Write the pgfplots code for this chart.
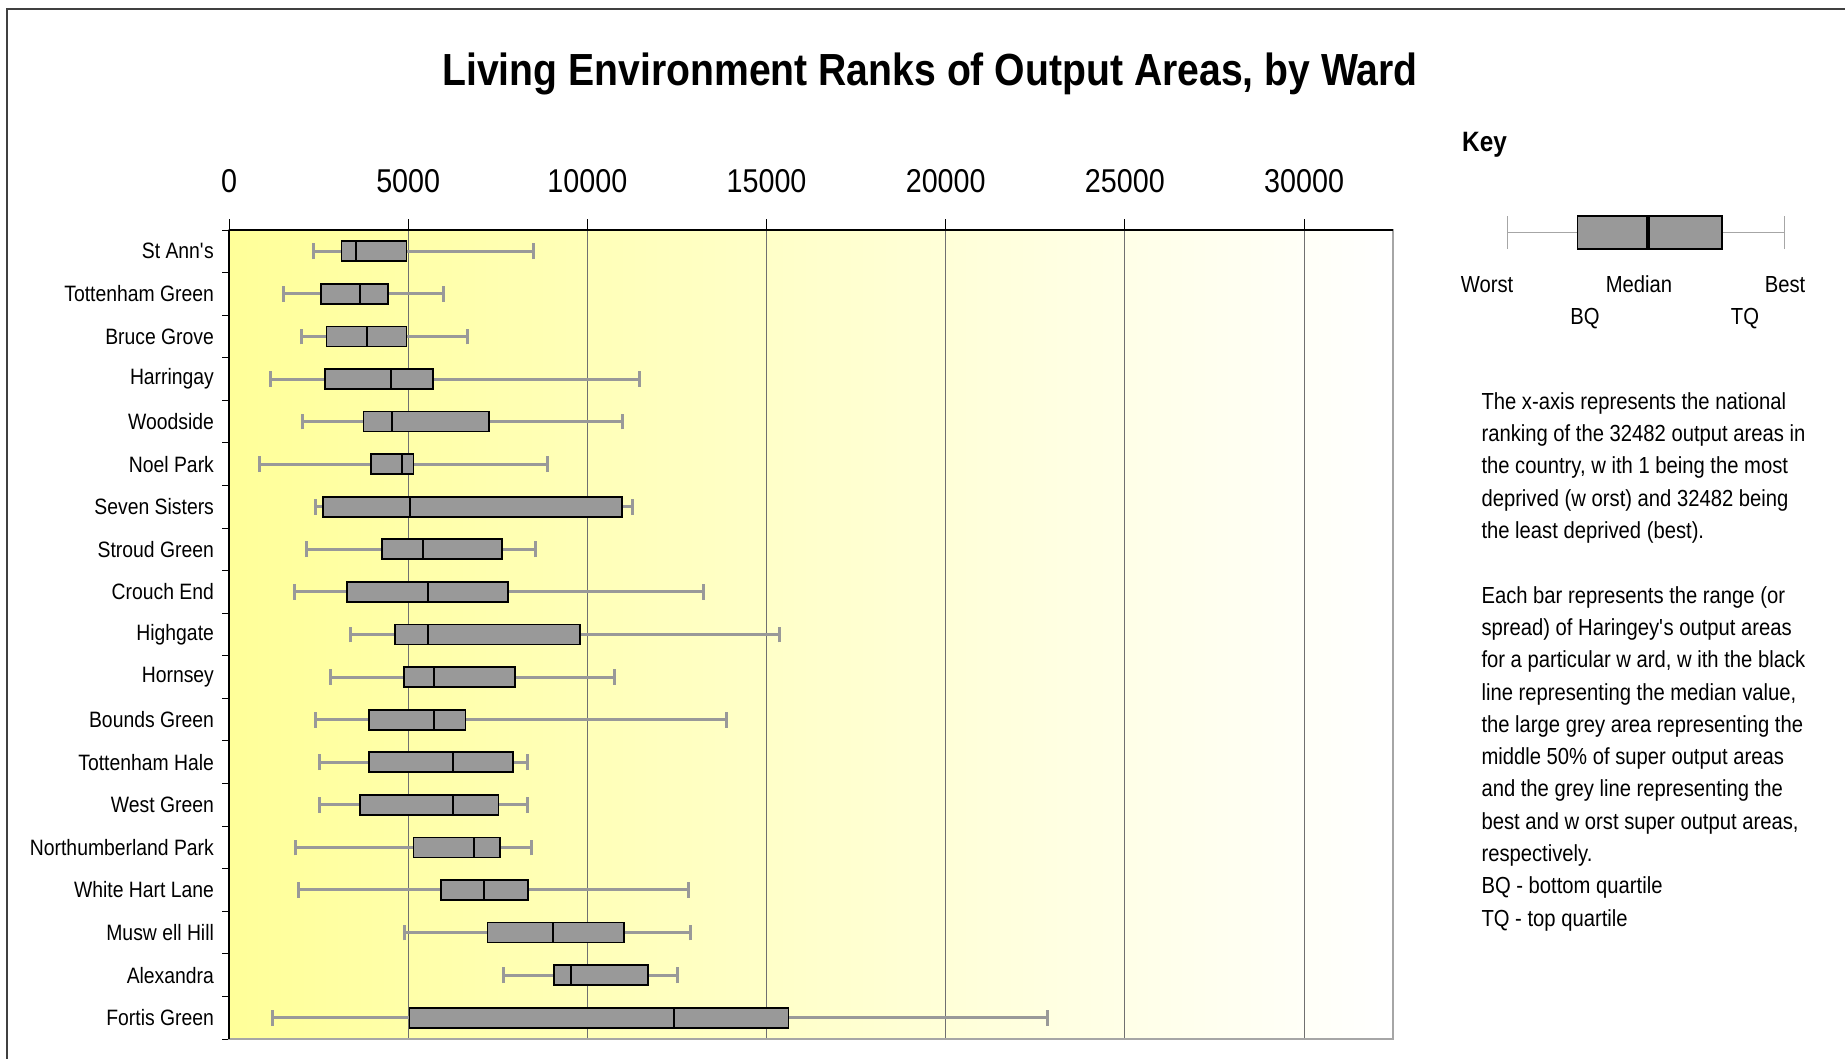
\documentclass[border=0pt]{standalone}
\usepackage{fontspec}
\setmainfont{Liberation Sans}[FakeStretch=0.87]
\usepackage{pgfplots}
\pgfplotsset{compat=1.18}
\usepgfplotslibrary{statistics}
\usepackage{pgfplotstable}
\definecolor{boxgray}{HTML}{999999}
\definecolor{whisk}{HTML}{999999}
\definecolor{bgyel}{HTML}{FFFF99}
\definecolor{gridc}{HTML}{707070}

% rows from bottom (Fortis Green) to top (St Ann's)
\pgfplotstableread{
pos lw lq med uq uw
0 1220 5040 12420 15610 22850
1 7670 9070 9530 11700 12520
2 4890 7210 9030 11020 12880
3 1950 5920 7110 8340 12830
4 1850 5150 6850 7570 8450
5 2520 3650 6240 7520 8340
6 2520 3900 6240 7930 8340
7 2410 3900 5710 6600 13870
8 2820 4890 5710 7980 10770
9 3390 4640 5560 9790 15360
10 1830 3290 5560 7780 13240
11 2150 4260 5400 7620 8550
12 2410 2620 5040 10970 11270
13 860 3970 4840 5150 8900
14 2050 3750 4540 7260 10970
15 1170 2670 4530 5700 11450
16 2010 2720 3850 4950 6650
17 1530 2570 3650 4430 5990
18 2370 3140 3540 4950 8500
}\wards

\begin{document}
\begin{tikzpicture}[x=0.4pt,y=-0.4pt]
\path[use as bounding box] (0,0) rectangle (1845,1059);
\draw[line width=0.8pt, color=black!75] (7,1059) -- (7,9) -- (1845,9);
\node[anchor=base, inner sep=0pt, font=\fontsize{18}{21}\selectfont\bfseries] at (930,86) {Living Environment Ranks of Output Areas, by Ward};

\begin{axis}[
  at={(91.6pt,-415.6pt)}, anchor=south west,
  scale only axis, width=465.6pt, height=323.6pt,
  xmin=0, xmax=32482, ymin=-0.5, ymax=18.5,
  xtick={0,5000,10000,15000,20000,25000,30000},
  xticklabels={0,5000,10000,15000,20000,25000,30000},
  scaled x ticks=false,
  xtick pos=right, xticklabel pos=right,
  ytick={0,...,18},
  yticklabels={Fortis Green, Alexandra, Musw ell Hill, White Hart Lane, Northumberland Park, West Green, Tottenham Hale, Bounds Green, Hornsey, Highgate, Crouch End, Stroud Green, Seven Sisters, Noel Park, Woodside, Harringay, Bruce Grove, Tottenham Green, St Ann\textquotesingle s},
  minor ytick={-0.5,0.5,...,18.5},
  ytick pos=left,
  tick align=outside,
  major tick length=4.4pt, minor tick length=2.7pt,
  major y tick style={draw=none},
  tick style={black, line width=0.4pt},
  xmajorgrids, grid style={gridc, line width=0.45pt},
  axis line style={draw=gray!70, line width=0.6pt},
  axis background/.style={left color=bgyel, right color=white},
  xticklabel style={font=\fontsize{13.2}{15}\selectfont, yshift=7pt},
  yticklabel style={font=\fontsize{8.9}{10}\selectfont, xshift=1.9pt},
  boxplot/box extend=0.47, boxplot/whisker extend=0.37,
  boxplot/every box/.style={draw=black, fill=boxgray, line width=0.7pt},
  boxplot/every whisker/.style={draw=whisk, line width=1.2pt},
  boxplot/every median/.style={draw=black, line width=0.8pt},
  clip=false,
]
\pgfplotsinvokeforeach{0,...,18}{
  \pgfplotstablegetelem{#1}{lw}\of\wards \let\vlw\pgfplotsretval
  \pgfplotstablegetelem{#1}{lq}\of\wards \let\vlq\pgfplotsretval
  \pgfplotstablegetelem{#1}{med}\of\wards \let\vmed\pgfplotsretval
  \pgfplotstablegetelem{#1}{uq}\of\wards \let\vuq\pgfplotsretval
  \pgfplotstablegetelem{#1}{uw}\of\wards \let\vuw\pgfplotsretval
  \edef\doplot{\noexpand\addplot[boxplot prepared={lower whisker=\vlw, lower quartile=\vlq, median=\vmed, upper quartile=\vuq, upper whisker=\vuw, draw position=#1}] coordinates {};}
  \doplot
}
\draw[black, line width=0.7pt] (axis cs:0,18.5) -- (axis cs:32482,18.5);
\draw[black, line width=0.6pt] (axis cs:0,-0.5) -- (axis cs:0,18.5);
\end{axis}

% Key diagram
\begin{axis}[
  at={(602.9pt,-99.6pt)}, anchor=south west,
  scale only axis, width=110.8pt, height=13.2pt,
  xmin=0, xmax=100, ymin=-0.5, ymax=0.5,
  hide axis, clip=false,
  boxplot/box extend=1, boxplot/whisker extend=1,
  boxplot/every box/.style={draw=black, fill=boxgray, line width=0.6pt},
  boxplot/every whisker/.style={draw=gray!70, line width=0.45pt},
  boxplot/every median/.style={draw=black, line width=1.9pt},
]
\addplot[boxplot prepared={lower whisker=0, lower quartile=25.3, median=50.8,
  upper quartile=77.5, upper whisker=100, draw position=0}] coordinates {};
\end{axis}

\node[anchor=base west, inner sep=0pt, font=\fontsize{11.2}{13}\selectfont\bfseries] at (1461.7,151.7) {Key};
\begin{scope}[every node/.style={anchor=base, inner sep=0pt, font=\fontsize{9.3}{11}\selectfont}]
\node at (1487,292.7) {Worst};
\node at (1639,292.7) {Median};
\node at (1785,292.7) {Best};
\node at (1585,324) {BQ};
\node at (1745,324) {TQ};
\end{scope}
\begin{scope}[every node/.style={anchor=base west, inner sep=0pt, font=\fontsize{9.3}{11}\selectfont}]
\node at (1481,409.3) {The x-axis represents the national};
\node at (1481,441.6) {ranking of the 32482 output areas in};
\node at (1481,473.9) {the country, w ith 1 being the most};
\node at (1481,506.2) {deprived (w orst) and 32482 being};
\node at (1481,538.5) {the least deprived (best).};
\node at (1481,603.1) {Each bar represents the range (or};
\node at (1481,635.4) {spread) of Haringey\textquotesingle s output areas};
\node at (1481,667.7) {for a particular w ard, w ith the black};
\node at (1481,700.0) {line representing the median value,};
\node at (1481,732.3) {the large grey area representing the};
\node at (1481,764.6) {middle 50\% of super output areas};
\node at (1481,796.9) {and the grey line representing the};
\node at (1481,829.2) {best and w orst super output areas,};
\node at (1481,861.5) {respectively.};
\node at (1481,893.8) {BQ - bottom quartile};
\node at (1481,926.1) {TQ - top quartile};
\end{scope}
\end{tikzpicture}
\end{document}
